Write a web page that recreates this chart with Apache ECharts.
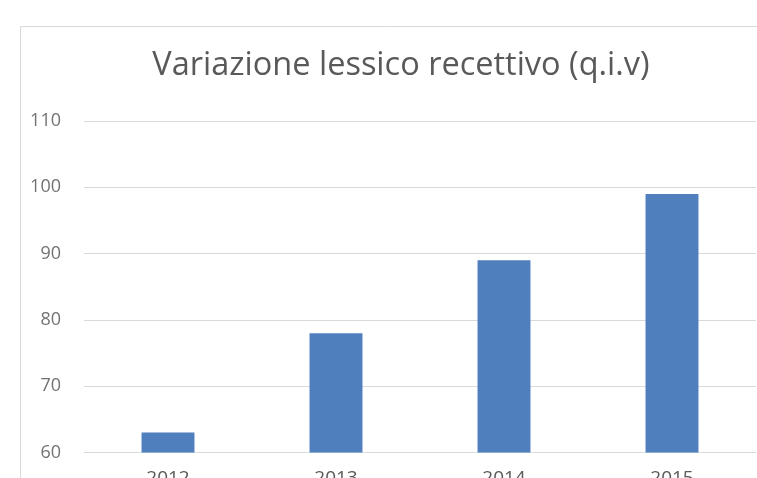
<!DOCTYPE html>
<html>
<head>
<meta charset="utf-8">
<style>
  html, body { margin: 0; padding: 0; background: #fff; }
  #chart { width: 757px; height: 478px; }
</style>
<script src="https://cdn.jsdelivr.net/npm/echarts@6/dist/echarts.min.js"></script>
</head>
<body>
<div id="chart"></div>
<script>
// dati
var anni = ['2012', '2013', '2014', '2015'];
var valori = [63, 78, 89, 99];
var titolo = 'Variazione lessico recettivo (q.i.v)';

var myChart = echarts.init(document.getElementById('chart'));

var option = {
    animation: false,
    backgroundColor: '#fff',
    title: {
        text: titolo,
        left: 396,
        top: 44,
        textAlign: 'center',
        textStyle: {
            fontFamily: 'Open Sans',
            fontSize: 32.5,
            fontWeight: 'normal',
            color: '#595959'
        }
    },
    // cornice del grafico (solo bordo sinistro e superiore visibili)
    graphic: [{
        type: 'rect',
        shape: { x: 20.5, y: 26.5, width: 900, height: 600 },
        style: { fill: 'none', stroke: '#d9d9d9', lineWidth: 1 },
        silent: true
    }],
    grid: {
        left: 84,
        right: 1,
        top: 121,
        bottom: 25.5,
        outerBoundsMode: 'none',
        containLabel: false
    },
    xAxis: {
        type: 'category',
        data: anni,
        axisTick: { show: false },
        axisLine: { lineStyle: { color: '#d9d9d9' } },
        axisLabel: {
            margin: 17,
            fontFamily: 'Open Sans',
            fontSize: 19,
            color: '#595959'
        }
    },
    yAxis: {
        type: 'value',
        min: 60,
        max: 110,
        interval: 10,
        axisLine: { show: false },
        axisTick: { show: false },
        splitLine: { lineStyle: { color: '#d9d9d9' } },
        axisLabel: {
            margin: 23,
            fontFamily: 'Open Sans',
            fontSize: 18,
            color: '#737373'
        }
    },
    series: [{
        type: 'bar',
        data: valori,
        barWidth: '31.5%',
        itemStyle: { color: '#4f7fbd' }
    }]
};

myChart.setOption(option);
</script>
</body>
</html>
